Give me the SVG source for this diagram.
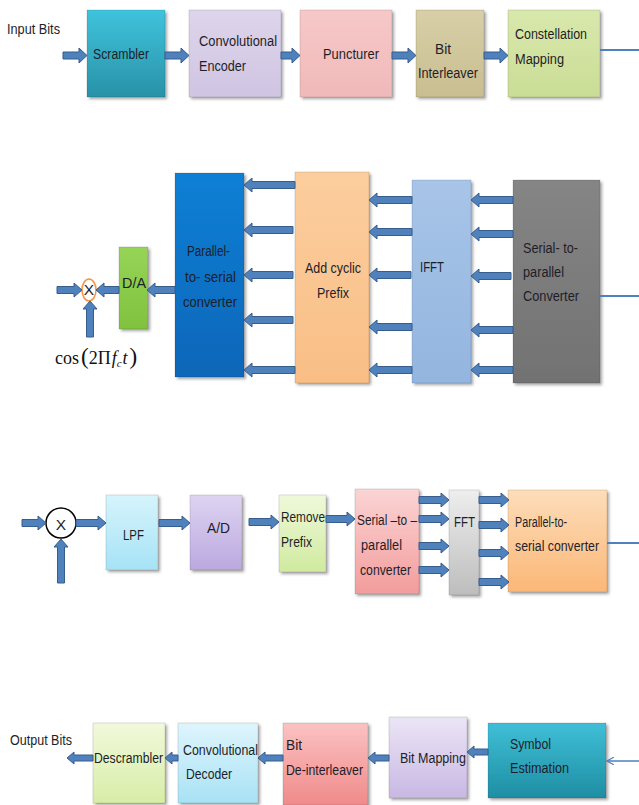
<svg xmlns="http://www.w3.org/2000/svg" width="639" height="805" viewBox="0 0 639 805">
<style>
  text { font-family: "Liberation Sans", Arial, sans-serif; font-size: 15.5px; fill: #1e1e28; }
  .fa { fill: #4F81BD; stroke: #385D8A; stroke-width: 1; }
  .ln { stroke: #4F81BD; stroke-width: 2; fill: none; }
  .box { filter: url(#sh); stroke: rgba(0,0,0,0.12); stroke-width: 1; }
  .serif { font-family: "Liberation Serif", "Times New Roman", serif; font-size: 18px; fill: #111; }
</style>
<defs>
  <filter id="sh" x="-10%" y="-10%" width="130%" height="130%">
    <feDropShadow dx="2" dy="2" stdDeviation="1.5" flood-color="#000" flood-opacity="0.35"/>
  </filter>
  <linearGradient id="gTeal" x1="0" y1="0" x2="0" y2="1"><stop offset="0" stop-color="#3FC3DC"/><stop offset="1" stop-color="#2892A8"/></linearGradient>
  <linearGradient id="gLav" x1="0" y1="0" x2="0" y2="1"><stop offset="0" stop-color="#DDD5EB"/><stop offset="1" stop-color="#D0C5E2"/></linearGradient>
  <linearGradient id="gPink" x1="0" y1="0" x2="0" y2="1"><stop offset="0" stop-color="#F6C8C8"/><stop offset="1" stop-color="#F1B9B9"/></linearGradient>
  <linearGradient id="gTan" x1="0" y1="0" x2="0" y2="1"><stop offset="0" stop-color="#D8CFA8"/><stop offset="1" stop-color="#C9BE90"/></linearGradient>
  <linearGradient id="gLime" x1="0" y1="0" x2="0" y2="1"><stop offset="0" stop-color="#D9E8AC"/><stop offset="1" stop-color="#CADD96"/></linearGradient>
  <linearGradient id="gBlue" x1="0" y1="0" x2="0" y2="1"><stop offset="0" stop-color="#1080D6"/><stop offset="1" stop-color="#0A66B8"/></linearGradient>
  <linearGradient id="gGreen" x1="0" y1="0" x2="0" y2="1"><stop offset="0" stop-color="#96D457"/><stop offset="1" stop-color="#80C23F"/></linearGradient>
  <linearGradient id="gPeach" x1="0" y1="0" x2="0" y2="1"><stop offset="0" stop-color="#FCCE9E"/><stop offset="1" stop-color="#F9BE86"/></linearGradient>
  <linearGradient id="gSky" x1="0" y1="0" x2="0" y2="1"><stop offset="0" stop-color="#A8C5E8"/><stop offset="1" stop-color="#93B5DF"/></linearGradient>
  <linearGradient id="gGray" x1="0" y1="0" x2="0" y2="1"><stop offset="0" stop-color="#858585"/><stop offset="1" stop-color="#727272"/></linearGradient>
  <linearGradient id="gLPF" x1="0" y1="0" x2="0" y2="1"><stop offset="0" stop-color="#D6F4FC"/><stop offset="1" stop-color="#A6E3F6"/></linearGradient>
  <linearGradient id="gAD" x1="0" y1="0" x2="0" y2="1"><stop offset="0" stop-color="#DED4F1"/><stop offset="1" stop-color="#BBA8DF"/></linearGradient>
  <linearGradient id="gRP" x1="0" y1="0" x2="0" y2="1"><stop offset="0" stop-color="#EFF9DA"/><stop offset="1" stop-color="#D0EA9F"/></linearGradient>
  <linearGradient id="gSP3" x1="0" y1="0" x2="0" y2="1"><stop offset="0" stop-color="#FBD4D4"/><stop offset="1" stop-color="#F39C9C"/></linearGradient>
  <linearGradient id="gFFT" x1="0" y1="0" x2="0" y2="1"><stop offset="0" stop-color="#EEEEEE"/><stop offset="1" stop-color="#BDBDBD"/></linearGradient>
  <linearGradient id="gPS3" x1="0" y1="0" x2="0" y2="1"><stop offset="0" stop-color="#FDDDBA"/><stop offset="1" stop-color="#FBB777"/></linearGradient>
  <linearGradient id="gDes" x1="0" y1="0" x2="0" y2="1"><stop offset="0" stop-color="#F1F9DA"/><stop offset="1" stop-color="#D8EDA8"/></linearGradient>
  <linearGradient id="gCD" x1="0" y1="0" x2="0" y2="1"><stop offset="0" stop-color="#DFF5FD"/><stop offset="1" stop-color="#A8E2F5"/></linearGradient>
  <linearGradient id="gDI" x1="0" y1="0" x2="0" y2="1"><stop offset="0" stop-color="#FBC2C2"/><stop offset="1" stop-color="#F08A8A"/></linearGradient>
  <linearGradient id="gBM" x1="0" y1="0" x2="0" y2="1"><stop offset="0" stop-color="#ECE5F6"/><stop offset="1" stop-color="#C8B8E3"/></linearGradient>
  <linearGradient id="gSE" x1="0" y1="0" x2="0" y2="1"><stop offset="0" stop-color="#3FBFD7"/><stop offset="1" stop-color="#1E8EA3"/></linearGradient>
  <marker id="open" viewBox="0 0 10 10" refX="9" refY="5" markerWidth="8" markerHeight="8" orient="auto" markerUnits="userSpaceOnUse">
    <path d="M0,0 L9,5 L0,10" fill="none" stroke="#4F81BD" stroke-width="1.5"/>
  </marker>
</defs>
<rect width="639" height="805" fill="#fff"/>

<!-- Row 1 -->
<text x="7" y="34" textLength="53" lengthAdjust="spacingAndGlyphs">Input Bits</text>
<g id="scrambler"><rect class="box" x="87" y="10" width="78" height="87" fill="url(#gTeal)"/><text x="93" y="59" textLength="56" lengthAdjust="spacingAndGlyphs">Scrambler</text></g>
<g id="conv-encoder"><rect class="box" x="189" y="10" width="92" height="87" fill="url(#gLav)"/><text x="199" y="46" textLength="78" lengthAdjust="spacingAndGlyphs">Convolutional</text><text x="199" y="71" textLength="47" lengthAdjust="spacingAndGlyphs">Encoder</text></g>
<g id="puncturer"><rect class="box" x="300" y="10" width="92" height="87" fill="url(#gPink)"/><text x="323" y="59" textLength="56" lengthAdjust="spacingAndGlyphs">Puncturer</text></g>
<g id="bit-interleaver"><rect class="box" x="416" y="10" width="68" height="87" fill="url(#gTan)"/><text x="435" y="54" textLength="16" lengthAdjust="spacingAndGlyphs">Bit</text><text x="418" y="78" textLength="60" lengthAdjust="spacingAndGlyphs">Interleaver</text></g>
<g id="constellation"><rect class="box" x="508" y="10" width="92" height="87" fill="url(#gLime)"/><text x="515" y="39" textLength="72" lengthAdjust="spacingAndGlyphs">Constellation</text><text x="515" y="64" textLength="49" lengthAdjust="spacingAndGlyphs">Mapping</text></g>

<!-- Row 2 -->
<g id="ps-converter"><rect class="box" x="175" y="173" width="69" height="204" fill="url(#gBlue)"/><text x="187" y="256" textLength="43" lengthAdjust="spacingAndGlyphs" fill="#0d1d3a">Parallel-</text><text x="185" y="282" textLength="51" lengthAdjust="spacingAndGlyphs" fill="#0d1d3a">to- serial</text><text x="183" y="307" textLength="54" lengthAdjust="spacingAndGlyphs" fill="#0d1d3a">converter</text></g>
<g id="da"><rect class="box" x="119" y="247" width="29" height="82" fill="url(#gGreen)"/><text x="122" y="288" textLength="24" lengthAdjust="spacingAndGlyphs">D/A</text></g>
<g id="add-cp"><rect class="box" x="295" y="172" width="74" height="211" fill="url(#gPeach)"/><text x="305" y="273" textLength="56" lengthAdjust="spacingAndGlyphs">Add cyclic</text><text x="317" y="298" textLength="32" lengthAdjust="spacingAndGlyphs">Prefix</text></g>
<g id="ifft"><rect class="box" x="412" y="180" width="59" height="203" fill="url(#gSky)"/><text x="420" y="272" textLength="24" lengthAdjust="spacingAndGlyphs">IFFT</text></g>
<g id="sp-converter"><rect class="box" x="513" y="180" width="87" height="203" fill="url(#gGray)"/><text x="523" y="253" textLength="55" lengthAdjust="spacingAndGlyphs">Serial- to-</text><text x="523" y="277" textLength="41" lengthAdjust="spacingAndGlyphs">parallel</text><text x="523" y="301" textLength="56" lengthAdjust="spacingAndGlyphs">Converter</text></g>
<g id="mixer-tx"><ellipse cx="89" cy="290" rx="7" ry="11" fill="#fff" stroke="#F79646" stroke-width="1.6"/><text x="89" y="295" font-size="13" text-anchor="middle" fill="#333">X</text></g>
<text class="serif" x="55" y="364">cos<tspan font-size="23" dx="2">(</tspan>2Π<tspan font-style="italic" dx="1">f</tspan><tspan font-style="italic" font-size="11" dy="3">c</tspan><tspan font-style="italic" dy="-3" dx="1">t</tspan><tspan font-size="23" dx="2">)</tspan></text>

<!-- Row 3 -->
<g id="mixer-rx"><circle cx="61" cy="523" r="15" fill="#fff" stroke="#000" stroke-width="1.5"/><text x="61" y="530" font-size="20" text-anchor="middle" fill="#000">X</text></g>
<g id="lpf"><rect class="box" x="106" y="495" width="52" height="75" fill="url(#gLPF)"/><text x="123" y="540" textLength="21" lengthAdjust="spacingAndGlyphs">LPF</text></g>
<g id="ad"><rect class="box" x="190" y="495" width="52" height="75" fill="url(#gAD)"/><text x="207" y="533" textLength="23" lengthAdjust="spacingAndGlyphs">A/D</text></g>
<g id="remove-prefix"><rect class="box" x="279" y="495" width="47" height="77" fill="url(#gRP)"/><text x="281" y="522" textLength="44" lengthAdjust="spacingAndGlyphs">Remove</text><text x="281" y="547" textLength="31" lengthAdjust="spacingAndGlyphs">Prefix</text></g>
<g id="sp-rx"><rect class="box" x="355" y="489" width="64" height="105" fill="url(#gSP3)"/><text x="357" y="525" textLength="60" lengthAdjust="spacingAndGlyphs">Serial –to –</text><text x="361" y="550" textLength="41" lengthAdjust="spacingAndGlyphs">parallel</text><text x="360" y="575" textLength="51" lengthAdjust="spacingAndGlyphs">converter</text></g>
<g id="fft"><rect class="box" x="449" y="490" width="30" height="105" fill="url(#gFFT)"/><text x="454" y="527" textLength="21" lengthAdjust="spacingAndGlyphs">FFT</text></g>
<g id="ps-rx"><rect class="box" x="508" y="490" width="99" height="102" fill="url(#gPS3)"/><text x="515" y="527" textLength="52" lengthAdjust="spacingAndGlyphs">Parallel-to-</text><text x="515" y="551" textLength="84" lengthAdjust="spacingAndGlyphs">serial converter</text></g>

<!-- Row 4 -->
<text x="10" y="745" textLength="62" lengthAdjust="spacingAndGlyphs">Output Bits</text>
<g id="descrambler"><rect class="box" x="93" y="723" width="72" height="80" fill="url(#gDes)"/><text x="94" y="763" textLength="69" lengthAdjust="spacingAndGlyphs">Descrambler</text></g>
<g id="conv-decoder"><rect class="box" x="178" y="723" width="80" height="80" fill="url(#gCD)"/><text x="183" y="755" textLength="75" lengthAdjust="spacingAndGlyphs">Convolutional</text><text x="186" y="779" textLength="46" lengthAdjust="spacingAndGlyphs">Decoder</text></g>
<g id="bit-deinterleaver"><rect class="box" x="283" y="723" width="85" height="82" fill="url(#gDI)"/><text x="286" y="750" textLength="16" lengthAdjust="spacingAndGlyphs">Bit</text><text x="286" y="775" textLength="77" lengthAdjust="spacingAndGlyphs">De-interleaver</text></g>
<g id="bit-mapping"><rect class="box" x="389" y="717" width="78" height="81" fill="url(#gBM)"/><text x="400" y="763" textLength="66" lengthAdjust="spacingAndGlyphs">Bit Mapping</text></g>
<g id="symbol-estimation"><rect class="box" x="488" y="723" width="118" height="75" fill="url(#gSE)"/><text x="510" y="749" textLength="41" lengthAdjust="spacingAndGlyphs">Symbol</text><text x="510" y="773" textLength="59" lengthAdjust="spacingAndGlyphs">Estimation</text></g>

<!-- Connectors -->
<g id="connectors">
  <polygon class="fa" points="63,52 79,52 79,48 87,55.5 79,63 79,59 63,59"/>
  <polygon class="fa" points="165,52 181,52 181,48 189,55.5 181,63 181,59 165,59"/>
  <polygon class="fa" points="281,52 292,52 292,48 300,55.5 292,63 292,59 281,59"/>
  <polygon class="fa" points="392,52 408,52 408,48 416,55.5 408,63 408,59 392,59"/>
  <polygon class="fa" points="484,52 500,52 500,48 508,55.5 500,63 500,59 484,59"/>
  <line class="ln" x1="600" y1="50" x2="639" y2="50"/>

  <polygon class="fa" points="57,286.5 74,286.5 74,283 82,290 74,297 74,293.5 57,293.5"/>
  <polygon class="fa" points="119,286.5 104,286.5 104,283 96,290 104,297 104,293.5 119,293.5"/>
  <polygon class="fa" points="175,286.5 155,286.5 155,283 147,290 155,297 155,293.5 175,293.5"/>
  <polygon class="fa" points="86.5,337 86.5,309 83,309 90,301 97,309 93.5,309 93.5,337"/>

  <polygon class="fa" points="295,181.5 252,181.5 252,178 244,185 252,192 252,188.5 295,188.5"/>
  <polygon class="fa" points="293,226.5 252,226.5 252,223 244,230 252,237 252,233.5 293,233.5"/>
  <polygon class="fa" points="293,271.5 252,271.5 252,268 244,275 252,282 252,278.5 293,278.5"/>
  <polygon class="fa" points="293,316.5 252,316.5 252,313 244,320 252,327 252,323.5 293,323.5"/>
  <polygon class="fa" points="295,366.5 252,366.5 252,363 244,370 252,377 252,373.5 295,373.5"/>

  <polygon class="fa" points="412,196.5 377,196.5 377,193 369,200 377,207 377,203.5 412,203.5"/>
  <polygon class="fa" points="412,228.5 377,228.5 377,225 369,232 377,239 377,235.5 412,235.5"/>
  <polygon class="fa" points="411,271.5 377,271.5 377,268 369,275 377,282 377,278.5 411,278.5"/>
  <polygon class="fa" points="412,323.5 377,323.5 377,320 369,327 377,334 377,330.5 412,330.5"/>
  <polygon class="fa" points="412,366.5 377,366.5 377,363 369,370 377,377 377,373.5 412,373.5"/>

  <polygon class="fa" points="513,196.5 479,196.5 479,193 471,200 479,207 479,203.5 513,203.5"/>
  <polygon class="fa" points="513,230.5 479,230.5 479,227 471,234 479,241 479,237.5 513,237.5"/>
  <polygon class="fa" points="511,272.5 479,272.5 479,269 471,276 479,283 479,279.5 511,279.5"/>
  <polygon class="fa" points="513,326.5 479,326.5 479,323 471,330 479,337 479,333.5 513,333.5"/>
  <polygon class="fa" points="513,366.5 479,366.5 479,363 471,370 479,377 479,373.5 513,373.5"/>
  <line class="ln" x1="600" y1="296" x2="639" y2="296"/>

  <polygon class="fa" points="22,519.5 38,519.5 38,516 46,523 38,530 38,526.5 22,526.5"/>
  <polygon class="fa" points="76,519.5 98,519.5 98,516 106,523 98,530 98,526.5 76,526.5"/>
  <polygon class="fa" points="57.5,583 57.5,547 54,547 61,539 68,547 64.5,547 64.5,583"/>
  <polygon class="fa" points="159,519.5 182,519.5 182,516 190,523 182,530 182,526.5 159,526.5"/>
  <polygon class="fa" points="249,518.5 271,518.5 271,515 279,522 271,529 271,525.5 249,525.5"/>
  <polygon class="fa" points="326,515.5 347,515.5 347,512 355,519 347,526 347,522.5 326,522.5"/>

  <polygon class="fa" points="419,496.5 441,496.5 441,493 449,500 441,507 441,503.5 419,503.5"/>
  <polygon class="fa" points="419,515.5 441,515.5 441,512 449,519 441,526 441,522.5 419,522.5"/>
  <polygon class="fa" points="419,542.5 441,542.5 441,539 449,546 441,553 441,549.5 419,549.5"/>
  <polygon class="fa" points="419,566.5 441,566.5 441,563 449,570 441,577 441,573.5 419,573.5"/>

  <polygon class="fa" points="479,496.5 501,496.5 501,493 509,500 501,507 501,503.5 479,503.5"/>
  <polygon class="fa" points="479,521.5 501,521.5 501,518 509,525 501,532 501,528.5 479,528.5"/>
  <polygon class="fa" points="479,549.5 501,549.5 501,546 509,553 501,560 501,556.5 479,556.5"/>
  <polygon class="fa" points="479,578.5 501,578.5 501,575 509,582 501,589 501,585.5 479,585.5"/>
  <line class="ln" x1="607" y1="543" x2="639" y2="543"/>

  <polygon class="fa" points="93,755 74,755 74,752 67,758 74,764 74,761 93,761"/>
  <polygon class="fa" points="178,755 172,755 172,752 165,758 172,764 172,761 178,761"/>
  <polygon class="fa" points="283,755 265,755 265,752 258,758 265,764 265,761 283,761"/>
  <polygon class="fa" points="389,755 375,755 375,752 368,758 375,764 375,761 389,761"/>
  <polygon class="fa" points="488,749 474,749 474,746 467,752 474,758 474,755 488,755"/>
  <line x1="639" y1="761" x2="607" y2="761" stroke="#4F81BD" stroke-width="1.5" marker-end="url(#open)"/>
</g>
</svg>
